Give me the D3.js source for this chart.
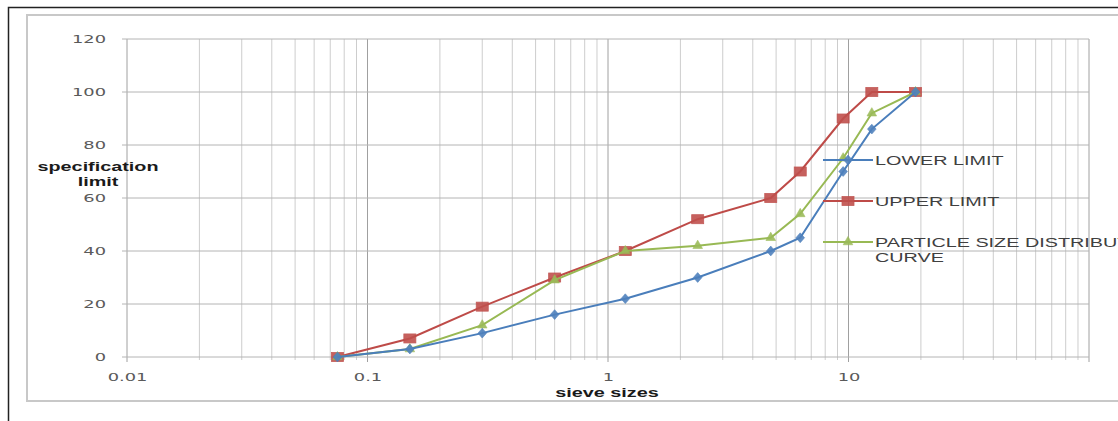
<!DOCTYPE html>
<html>

<head>
    <meta charset="utf-8">
    <title>sieve analysis</title>
    <style type="text/css">
    body { margin: 0; background: #fff; }
    text { font-family: "Liberation Sans", Arial, sans-serif; }
    .line { fill: none; stroke-width: 2px; }
    </style>
</head>

<body>
    <script src="https://cdn.jsdelivr.net/npm/d3@7/dist/d3.min.js"></script>
    <script>
    // sieve sizes (mm) and % passing for each curve
    var sieves = [0.075, 0.15, 0.3, 0.6, 1.18, 2.36, 4.75, 6.3, 9.5, 12.5, 19];
    var lowerLimit = [0, 3, 9, 16, 22, 30, 40, 45, 70, 86, 100];
    var upperLimit = [0, 7, 19, 30, 40, 52, 60, 70, 90, 100, 100];
    var particleCurve = [0, 3, 12, 29, 40, 42, 45, 54, 75, 92, 100];

    var xTicks = [0.01, 0.1, 1, 10];
    var yTicks = [0, 20, 40, 60, 80, 100, 120];
    var seriesNames = ["LOWER LIMIT", "UPPER LIMIT", "PARTICLE SIZE DISTRIBUTION CURVE"];
    var seriesColors = ["#4a7ebb", "#be4b48", "#98b954"];

    var W = 1118, H = 421;
    var sxTick = 1.7, sxLab = 1.65, sxLeg = 1.65; // the picture is stretched sideways, so is the text

    var x = d3.scaleLog().domain([0.01, 100]).range([127, 1089]);
    var y = d3.scaleLinear().domain([0, 120]).range([357, 39]);

    var svg = d3.select("body").append("svg")
        .attr("width", W)
        .attr("height", H);

    // outer frame and chart area border
    svg.append("path")
        .attr("d", "M8.5," + H + "V7.5H" + W)
        .style("fill", "none").style("stroke", "#222").style("stroke-width", 1.5);
    svg.append("rect")
        .attr("x", 27).attr("y", 15)
        .attr("width", W).attr("height", 386)
        .style("fill", "#fff").style("stroke", "#c8c8c8").style("stroke-width", 2);

    // vertical grid, minor and major
    var minor = [];
    for (var e = -2; e < 2; e++) {
        for (var m = 2; m <= 9; m++) minor.push(m * Math.pow(10, e));
    }
    svg.append("g").selectAll("line").data(minor).enter().append("line")
        .attr("x1", function(d) { return x(d); })
        .attr("x2", function(d) { return x(d); })
        .attr("y1", y(120)).attr("y2", y(0) + 3)
        .style("stroke", "#cdcdcd").style("stroke-width", 1);
    svg.append("g").selectAll("line").data(xTicks.concat([100])).enter().append("line")
        .attr("x1", function(d) { return x(d); })
        .attr("x2", function(d) { return x(d); })
        .attr("y1", y(120)).attr("y2", y(0) + 5)
        .style("stroke", "#a0a0a0").style("stroke-width", 1);

    // horizontal grid
    svg.append("g").selectAll("line").data(yTicks).enter().append("line")
        .attr("x1", x(0.01) - 5).attr("x2", x(100))
        .attr("y1", function(d) { return y(d); })
        .attr("y2", function(d) { return y(d); })
        .style("stroke", "#b4b4b4").style("stroke-width", 1);

    // axis labels (drawn with d3.axis, then stretched)
    var yAxis = svg.append("g")
        .attr("transform", "translate(" + (x(0.01) - 5) + ",0)")
        .call(d3.axisLeft(y).tickValues(yTicks).tickSize(0).tickPadding(16));
    var xAxis = svg.append("g")
        .attr("transform", "translate(0," + (y(0)) + ")")
        .call(d3.axisBottom(x).tickValues(xTicks).tickFormat(d3.format("")).tickSize(0).tickPadding(17));
    [yAxis, xAxis].forEach(function(a) {
        a.select(".domain").remove();
        a.selectAll("text")
            .style("font-family", "'DejaVu Sans', sans-serif")
            .style("font-size", "10.5px")
            .style("fill", "#5a5a5a");
    });
    yAxis.selectAll("text")
        .attr("transform", "scale(" + sxTick + ",1)")
        .attr("x", -16 / sxTick);
    xAxis.selectAll("text")
        .attr("transform", "scale(" + sxTick + ",1)")
        .attr("x", 0);

    function label(txt, cx, cy) {
        svg.append("text")
            .attr("transform", "translate(" + cx + "," + cy + ") scale(" + sxLab + ",1)")
            .attr("text-anchor", "middle")
            .style("font-size", "12px")
            .style("font-weight", "bold")
            .style("fill", "#1a1a1a")
            .text(txt);
    }
    label("specification", 98, 171);
    label("limit", 98, 186);
    label("sieve sizes", 607, 397);

    // series
    var all = [lowerLimit, upperLimit, particleCurve];
    var line = d3.line()
        .x(function(d, i) { return x(sieves[i]); })
        .y(function(d) { return y(d); });

    var symbols = [d3.symbolDiamond, d3.symbolSquare, d3.symbolTriangle];
    var sizes = [38, 70, 40];

    function marker(g, k, px, py) {
        if (k === 1) {
            g.append("rect")
                .attr("x", px - 6).attr("y", py - 4.5)
                .attr("width", 12).attr("height", 9)
                .style("fill", "#c0504d").style("stroke", "#be4b48").style("stroke-width", 0.8)
                .style("opacity", 0.9);
        } else {
            g.append("path")
                .attr("transform", "translate(" + px + "," + py + ")" + (k === 0 ? " scale(1.3,0.85)" : ""))
                .attr("d", d3.symbol().type(symbols[k]).size(sizes[k])())
                .style("fill", k === 0 ? "#4f81bd" : "#9bbb59")
                .style("stroke", seriesColors[k]).style("stroke-width", 0.6)
                .style("opacity", 0.9);
        }
    }

    [1, 2, 0].forEach(function(k) {
        var g = svg.append("g");
        g.append("path")
            .attr("class", "line")
            .attr("d", line(all[k]))
            .style("stroke", seriesColors[k]);
        all[k].forEach(function(v, i) {
            marker(g, k, x(sieves[i]), y(v));
        });
    });

    // legend
    var legY = [160, 201, 242];
    seriesNames.forEach(function(n, k) {
        var g = svg.append("g");
        g.append("line")
            .attr("x1", 823).attr("x2", 873)
            .attr("y1", legY[k]).attr("y2", legY[k])
            .style("stroke", seriesColors[k]).style("stroke-width", 2);
        marker(g, k, 848, legY[k]);
        var words = k === 2 ? ["PARTICLE SIZE DISTRIBUTION", "CURVE"] : [n];
        words.forEach(function(w, j) {
            g.append("text")
                .attr("transform", "translate(875," + (legY[k] + 5 + j * 15) + ") scale(" + sxLeg + ",1)")
                .style("font-size", "12px")
                .style("fill", "#404040")
                .text(w);
        });
    });
    </script>
</body>

</html>
